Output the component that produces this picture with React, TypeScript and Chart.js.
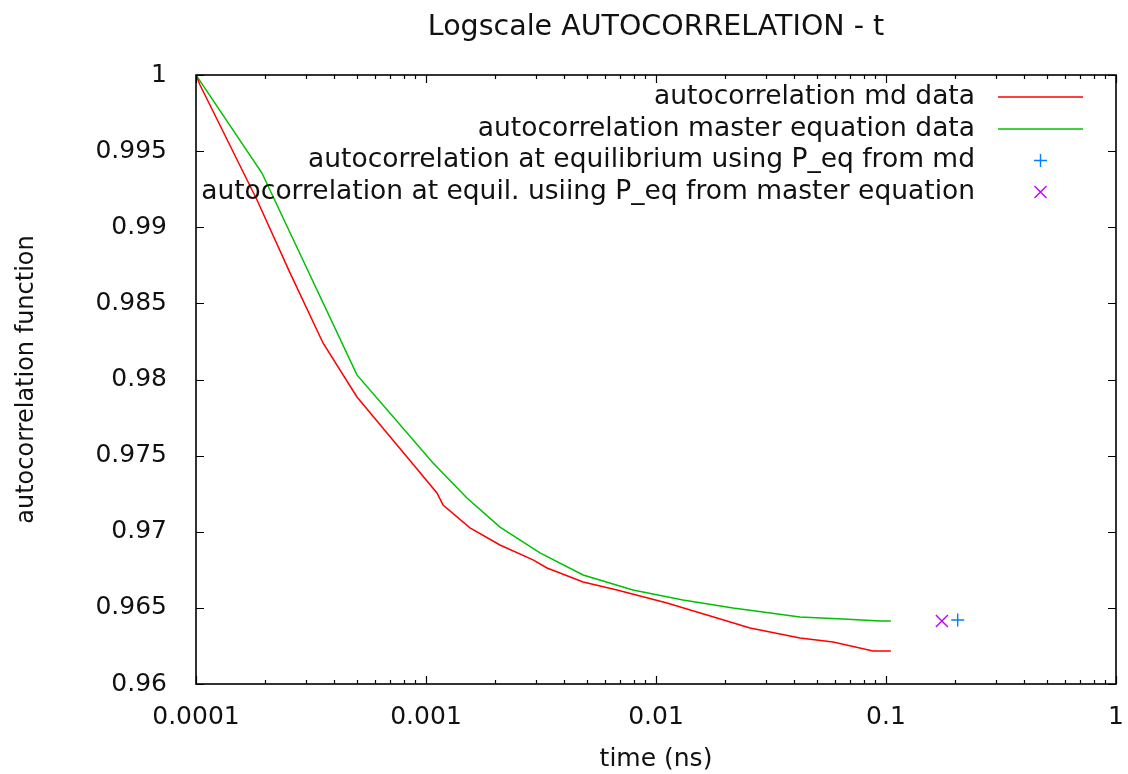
import { useEffect, useRef } from 'react';
import { Chart, registerables } from 'chart.js';

Chart.register(...registerables);

// ---- data ----
const mdTime = [1.0e-4, 1.041e-4, 1.842e-4, 2.563e-4, 3.566e-4, 5.01e-4, 8.27e-4, 1.116e-3, 1.186e-3, 1.553e-3, 2.097e-3, 2.92e-3, 3.36e-3, 4.82e-3, 6.77e-3, 0.01116, 0.01841, 0.02564, 0.04227, 0.0589, 0.0878, 0.105];
const mdValue = [1.0, 0.99934, 0.99179, 0.987, 0.9824, 0.97885, 0.97491, 0.97255, 0.97176, 0.97025, 0.96913, 0.96815, 0.96762, 0.9667, 0.96617, 0.96532, 0.96434, 0.96368, 0.96302, 0.96276, 0.96217, 0.96217];

const meTime = [1.0e-4, 1.935e-4, 5.01e-4, 1.073e-3, 1.507e-3, 2.097e-3, 3.13e-3, 4.82e-3, 7.94e-3, 0.0131, 0.02162, 0.04227, 0.065, 0.0942, 0.105];
const meValue = [1.0, 0.99356, 0.9803, 0.97452, 0.97222, 0.97031, 0.96861, 0.96716, 0.96617, 0.96552, 0.96499, 0.9644, 0.96427, 0.96414, 0.96414];

const eqMdTime = [0.205];
const eqMdValue = [0.9642];
const eqMeTime = [0.175];
const eqMeValue = [0.96414];

const xMajorTicks = [0.0001, 0.001, 0.01, 0.1, 1];
const xMajorLabels = ['0.0001', '0.001', '0.01', '0.1', '1'];
const yTicks = [0.96, 0.965, 0.97, 0.975, 0.98, 0.985, 0.99, 0.995, 1];
const yTickLabels = ['0.96', '0.965', '0.97', '0.975', '0.98', '0.985', '0.99', '0.995', '1'];

const seriesLabels = [
  'autocorrelation md data',
  'autocorrelation master equation data',
  'autocorrelation at equilibrium using P_eq from md',
  'autocorrelation at equil. usiing P_eq from master equation',
];
const seriesColors = ['#ff0000', '#00c000', '#0080ff', '#c000ff'];

const titleText = 'Logscale AUTOCORRELATION - t';
const xTitle = 'time (ns)';
const yTitle = 'autocorrelation function';

const FONT = '"DejaVu Sans", sans-serif';

// minor + major tick values for the log axis
const xAllTicks: { value: number; major: boolean }[] = [];
for (let i = 0; i < xMajorTicks.length; i++) {
  xAllTicks.push({ value: xMajorTicks[i], major: true });
  if (i < xMajorTicks.length - 1) {
    for (let m = 2; m <= 9; m++) xAllTicks.push({ value: xMajorTicks[i] * m, major: false });
  }
}

const zip = (xs: number[], ys: number[]) => xs.map((x, i) => ({ x, y: ys[i] }));

const framePlugin = {
  id: 'gnuFrame',
  afterDatasetsDraw(chart: any) {
    const { ctx, chartArea: a, scales } = chart;
    ctx.save();
    ctx.strokeStyle = '#000';
    ctx.lineWidth = 1.2;
    ctx.beginPath();
    for (const t of xAllTicks) {
      const px = Math.round(scales.x.getPixelForValue(t.value)) + 0.5;
      const len = t.major ? 8 : 4;
      ctx.moveTo(px, a.bottom);
      ctx.lineTo(px, a.bottom - len);
      ctx.moveTo(px, a.top);
      ctx.lineTo(px, a.top + len);
    }
    for (const v of yTicks) {
      const py = Math.round(scales.y.getPixelForValue(v)) + 0.5;
      ctx.moveTo(a.left, py);
      ctx.lineTo(a.left + 8, py);
      ctx.moveTo(a.right, py);
      ctx.lineTo(a.right - 8, py);
    }
    ctx.stroke();
    ctx.lineWidth = 1.6;
    ctx.strokeRect(a.left, a.top, a.right - a.left, a.bottom - a.top);

    // legend (gnuplot style: right-aligned text, sample to the right)
    const textRight = a.right - 141;
    const sampleL = a.right - 118;
    const sampleR = a.right - 33;
    const sampleC = (sampleL + sampleR) / 2;
    const rowY = [a.top + 22, a.top + 54, a.top + 85.5, a.top + 117];
    ctx.font = `26.5px ${FONT}`;
    ctx.fillStyle = '#111';
    ctx.textAlign = 'right';
    ctx.textBaseline = 'middle';
    seriesLabels.forEach((lab, i) => {
      ctx.fillText(lab, textRight, rowY[i]);
    });
    ctx.lineWidth = 1.5;
    for (let i = 0; i < 2; i++) {
      ctx.strokeStyle = seriesColors[i];
      ctx.beginPath();
      ctx.moveTo(sampleL, rowY[i]);
      ctx.lineTo(sampleR, rowY[i]);
      ctx.stroke();
    }
    ctx.lineWidth = 1.4;
    ctx.strokeStyle = seriesColors[2];
    ctx.beginPath();
    ctx.moveTo(sampleC - 6.5, rowY[2]);
    ctx.lineTo(sampleC + 6.5, rowY[2]);
    ctx.moveTo(sampleC, rowY[2] - 6.5);
    ctx.lineTo(sampleC, rowY[2] + 6.5);
    ctx.stroke();
    ctx.strokeStyle = seriesColors[3];
    ctx.beginPath();
    ctx.moveTo(sampleC - 6, rowY[3] - 6);
    ctx.lineTo(sampleC + 6, rowY[3] + 6);
    ctx.moveTo(sampleC - 6, rowY[3] + 6);
    ctx.lineTo(sampleC + 6, rowY[3] - 6);
    ctx.stroke();
    ctx.restore();
  },
};

export default function App() {
  const ref = useRef<HTMLCanvasElement | null>(null);

  useEffect(() => {
    document.body.style.margin = '0';
    const canvas = ref.current;
    if (!canvas) return;
    const chart = new Chart(canvas, {
      type: 'line',
      data: {
        datasets: [
          {
            label: seriesLabels[0],
            data: zip(mdTime, mdValue),
            borderColor: seriesColors[0],
            borderWidth: 1.5,
            pointRadius: 0,
            tension: 0,
            fill: false,
          },
          {
            label: seriesLabels[1],
            data: zip(meTime, meValue),
            borderColor: seriesColors[1],
            borderWidth: 1.5,
            pointRadius: 0,
            tension: 0,
            fill: false,
          },
          {
            label: seriesLabels[2],
            data: zip(eqMdTime, eqMdValue),
            showLine: false,
            pointStyle: 'cross',
            pointRadius: 6.5,
            borderWidth: 1.4,
            borderColor: seriesColors[2],
            backgroundColor: seriesColors[2],
          },
          {
            label: seriesLabels[3],
            data: zip(eqMeTime, eqMeValue),
            showLine: false,
            pointStyle: 'crossRot',
            pointRadius: 8.5,
            borderWidth: 1.4,
            borderColor: seriesColors[3],
            backgroundColor: seriesColors[3],
          },
        ] as any,
      },
      options: {
        responsive: false,
        animation: false,
        devicePixelRatio: 1,
        layout: { padding: { left: 0, right: 12, top: 0, bottom: 0 } },
        plugins: {
          legend: { display: false },
          tooltip: { enabled: false },
          title: {
            display: true,
            text: titleText,
            fullSize: false,
            color: '#111',
            font: { family: FONT, size: 28.5, weight: 'normal', lineHeight: 1.2 },
            padding: { top: 10, bottom: 30.8 },
          },
        },
        scales: {
          x: {
            type: 'logarithmic',
            min: 1e-4,
            max: 1,
            afterBuildTicks: (s: any) => {
              s.ticks = xAllTicks.map((t) => ({ value: t.value, major: t.major }));
            },
            afterFit: (s: any) => {
              s.height = 90;
              s.paddingLeft = 0;
              s.paddingRight = 0;
            },
            ticks: {
              autoSkip: false,
              maxRotation: 0,
              minRotation: 0,
              padding: 18,
              color: '#111',
              font: { family: FONT, size: 25 },
              callback: (v: any) => {
                const i = xMajorTicks.findIndex((t) => Math.abs(t - v) / t < 1e-6);
                return i >= 0 ? xMajorLabels[i] : '';
              },
            },
            grid: { display: false, drawTicks: false },
            border: { display: false },
            title: {
              display: true,
              text: xTitle,
              color: '#111',
              font: { family: FONT, size: 25, lineHeight: 1.2 },
              padding: { top: 0, bottom: 0 },
            },
          },
          y: {
            type: 'linear',
            min: 0.96,
            max: 1,
            afterBuildTicks: (s: any) => {
              s.ticks = yTicks.map((v) => ({ value: v }));
            },
            afterFit: (s: any) => {
              s.width = 196;
              s.paddingTop = 0;
              s.paddingBottom = 0;
            },
            ticks: {
              padding: 29,
              color: '#111',
              font: { family: FONT, size: 25 },
              callback: (v: any) => {
                const i = yTicks.findIndex((t) => Math.abs(t - v) < 1e-9);
                return i >= 0 ? yTickLabels[i] : '';
              },
            },
            grid: { display: false, drawTicks: false },
            border: { display: false },
            title: {
              display: true,
              text: yTitle,
              color: '#111',
              font: { family: FONT, size: 24, lineHeight: 1.2 },
              padding: { top: 12, bottom: 0 },
            },
          },
        },
      } as any,
      plugins: [framePlugin],
    });
    return () => chart.destroy();
  }, []);

  return (
    <div style={{ position: 'absolute', left: 0, top: 0, width: 1128, height: 774, background: '#fff' }}>
      <canvas ref={ref} width={1128} height={774} />
    </div>
  );
}
